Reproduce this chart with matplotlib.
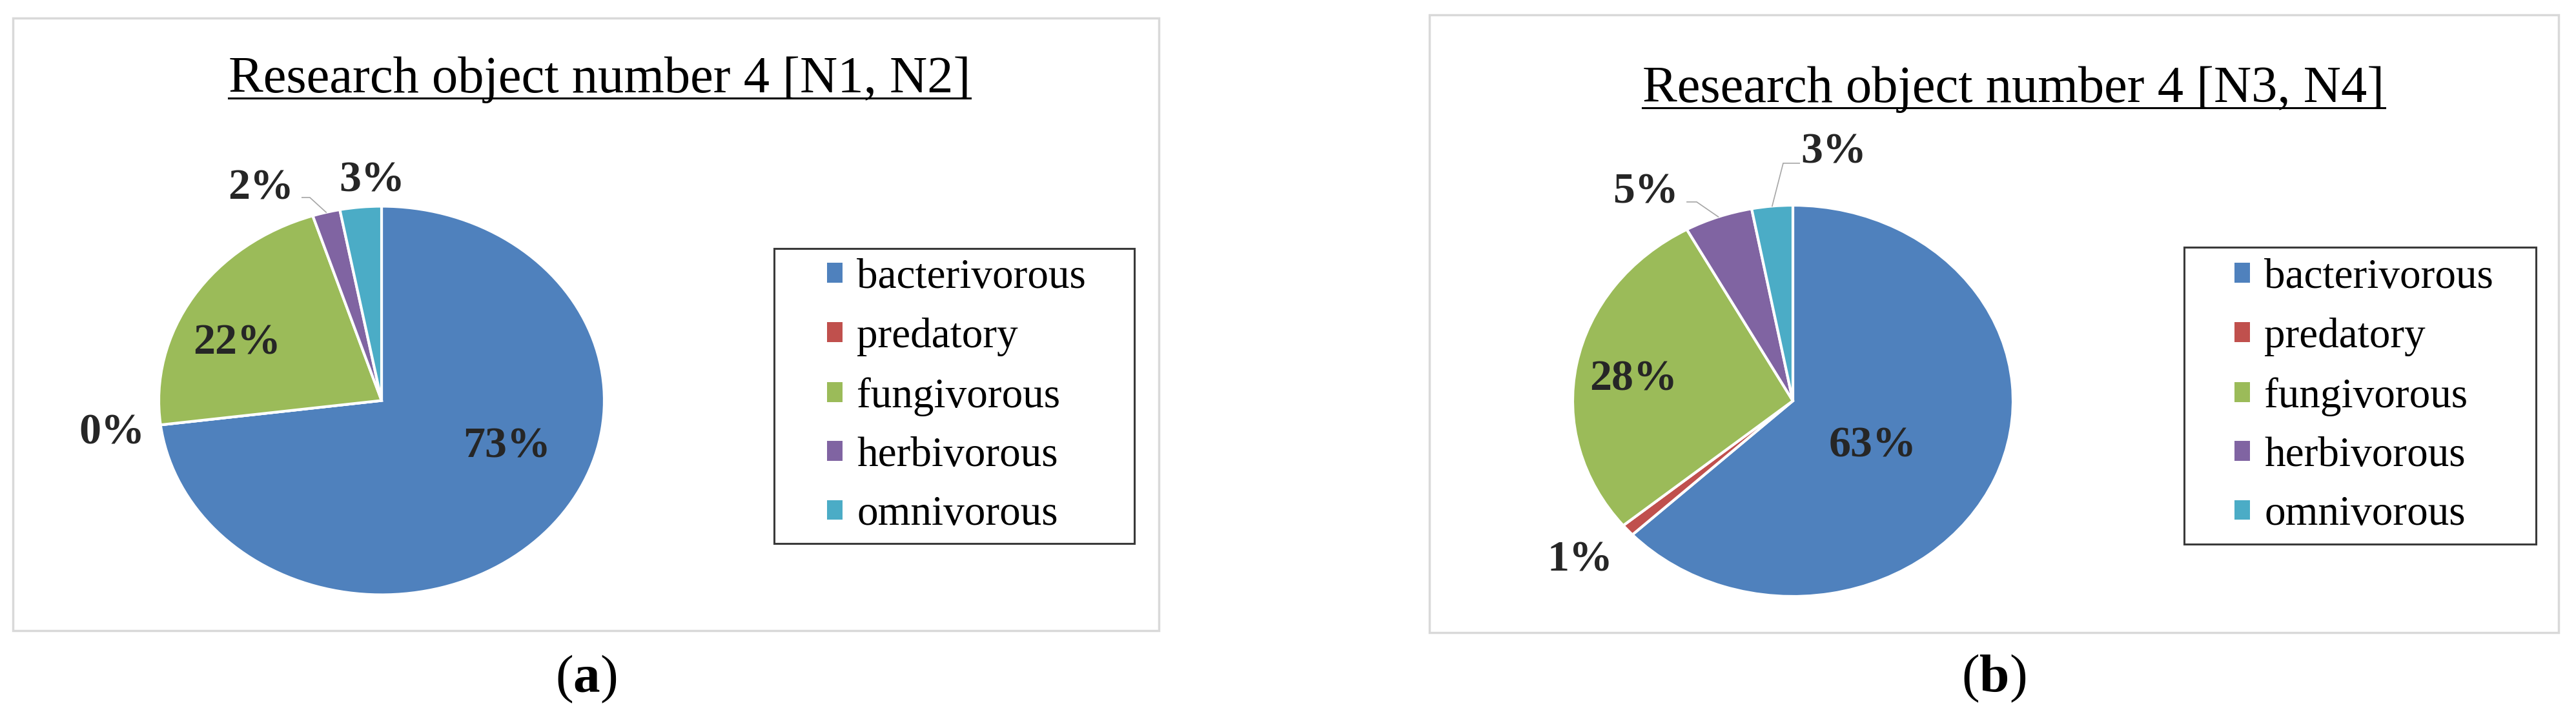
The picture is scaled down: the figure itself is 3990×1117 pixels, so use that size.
import matplotlib
matplotlib.use('Agg')
import matplotlib.pyplot as plt
from matplotlib.patches import Rectangle, Patch
from matplotlib.lines import Line2D
import numpy as np

# ---------------- data ----------------
categories = ['bacterivorous', 'predatory', 'fungivorous', 'herbivorous', 'omnivorous']
colors = ['#4F81BD', '#C0504D', '#9BBB59', '#8064A2', '#4BACC6']
values_a = [73, 0, 22, 2, 3]
values_b = [63, 1, 28, 5, 3]
titles = ['Research object number 4 [N1, N2]', 'Research object number 4 [N3, N4]']
panel_tags = ['a', 'b']

# ---------------- layout (pixels of the 3990x1117 canvas) ----------------
W, H = 3990, 1117
DPI = 100
plt.rcParams['font.family'] = ['Liberation Serif', 'DejaVu Serif']
plt.rcParams['mathtext.fontset'] = 'custom'
plt.rcParams['mathtext.rm'] = 'Liberation Serif'
plt.rcParams['mathtext.bf'] = 'Liberation Serif:bold'

fig = plt.figure(figsize=(W / DPI, H / DPI), dpi=DPI)
fig.patch.set_facecolor('white')


def fx(px):
    return px / W


def fy(py):
    return 1 - py / H


layouts = [
    dict(panel=(20, 28, 1795, 977), pie=(591, 620.5, 345, 301), title=(928.5, 143),
         legend_box=(1199, 385, 1757, 842), legend_anchor=(1281, 614), tag=(908, 1072),
         label_pos=[(0.562, -0.294), (-1.209, -0.221), (-0.649, 0.238),
                    (-0.542, 1.038), (-0.043, 1.078)],
         leaders={3: [(-0.322, 1.045), (-0.357, 1.045)]}),
    dict(panel=(2214, 23, 3963, 980), pie=(2777, 621, 341, 303), title=(3119, 158),
         legend_box=(3383, 383, 3928, 843), legend_anchor=(3461, 614), tag=(3088, 1071),
         label_pos=[(0.364, -0.284), (-0.965, -0.868), (-0.724, 0.056),
                    (-0.669, 1.013), (0.185, 1.215)],
         leaders={3: [(-0.437, 1.017), (-0.481, 1.017)],
                  4: [(-0.044, 1.215), (0.030, 1.215)]}),
]

all_values = [values_a, values_b]
title_texts = []

for values, title, tag, L in zip(all_values, titles, panel_tags, layouts):
    # panel border
    x0, y0, x1, y1 = L['panel']
    fig.add_artist(Rectangle((fx(x0), fy(y1)), (x1 - x0) / W, (y1 - y0) / H,
                             transform=fig.transFigure, fill=False,
                             edgecolor='#D9D9D9', lw=2.5, zorder=0))

    # pie (elliptical, as in the stretched original)
    cx, cy, rx, ry = L['pie']
    ax = fig.add_axes([fx(cx - rx), fy(cy + ry), 2 * rx / W, 2 * ry / H])
    wedges, _ = ax.pie(values, colors=colors, startangle=90, counterclock=False,
                       wedgeprops=dict(edgecolor='white', linewidth=3))
    ax.set_aspect('auto')
    ax.set_xlim(-1, 1)
    ax.set_ylim(-1, 1)
    ax.axis('off')

    # data labels
    for i, (v, (lx, ly)) in enumerate(zip(values, L['label_pos'])):
        ax.text(lx, ly, f'{v}%', ha='center', va='baseline', fontsize=49,
                fontweight='bold', color='#262626', clip_on=False)

    # leader lines
    for i, pts in L['leaders'].items():
        w = wedges[i]
        th = np.deg2rad((w.theta1 + w.theta2) / 2)
        ex, ey = np.cos(th), np.sin(th)
        xs = [ex] + [p[0] for p in pts]
        ys = [ey] + [p[1] for p in pts]
        ax.plot(xs, ys, color='#A6A6A6', lw=1.2, clip_on=False,
                solid_joinstyle='miter')

    # legend box + legend
    bx0, by0, bx1, by1 = L['legend_box']
    fig.add_artist(Rectangle((fx(bx0), fy(by1)), (bx1 - bx0) / W, (by1 - by0) / H,
                             transform=fig.transFigure, fill=False,
                             edgecolor='#3A3A3A', lw=2.2))
    handles = [Patch(facecolor=c, edgecolor='none') for c in colors]
    lax, lay = L['legend_anchor']
    fig.legend(handles, categories, loc='center left',
               bbox_to_anchor=(fx(lax), fy(lay)), frameon=False, fontsize=47,
               handlelength=0.37, handleheight=0.35, handletextpad=0.34,
               labelspacing=0.49, borderpad=0, borderaxespad=0)

    # title
    tx, ty = L['title']
    t = fig.text(fx(tx), fy(ty), title, ha='center', va='baseline', fontsize=58,
                 color='black')
    title_texts.append((t, ty))

    # panel tag
    gx, gy = L['tag']
    fig.text(fx(gx), fy(gy), r'($\mathbf{' + tag + r'}$)', ha='center',
             va='baseline', fontsize=60, color='black')

# underline titles
renderer = fig.canvas.get_renderer()
for t, ty in title_texts:
    bb = t.get_window_extent(renderer)
    fig.add_artist(Line2D([bb.x0 / W, bb.x1 / W], [fy(ty + 9), fy(ty + 9)],
                          transform=fig.transFigure, color='black', lw=2.2))

fig.savefig('out.png', dpi=DPI, facecolor='white')
